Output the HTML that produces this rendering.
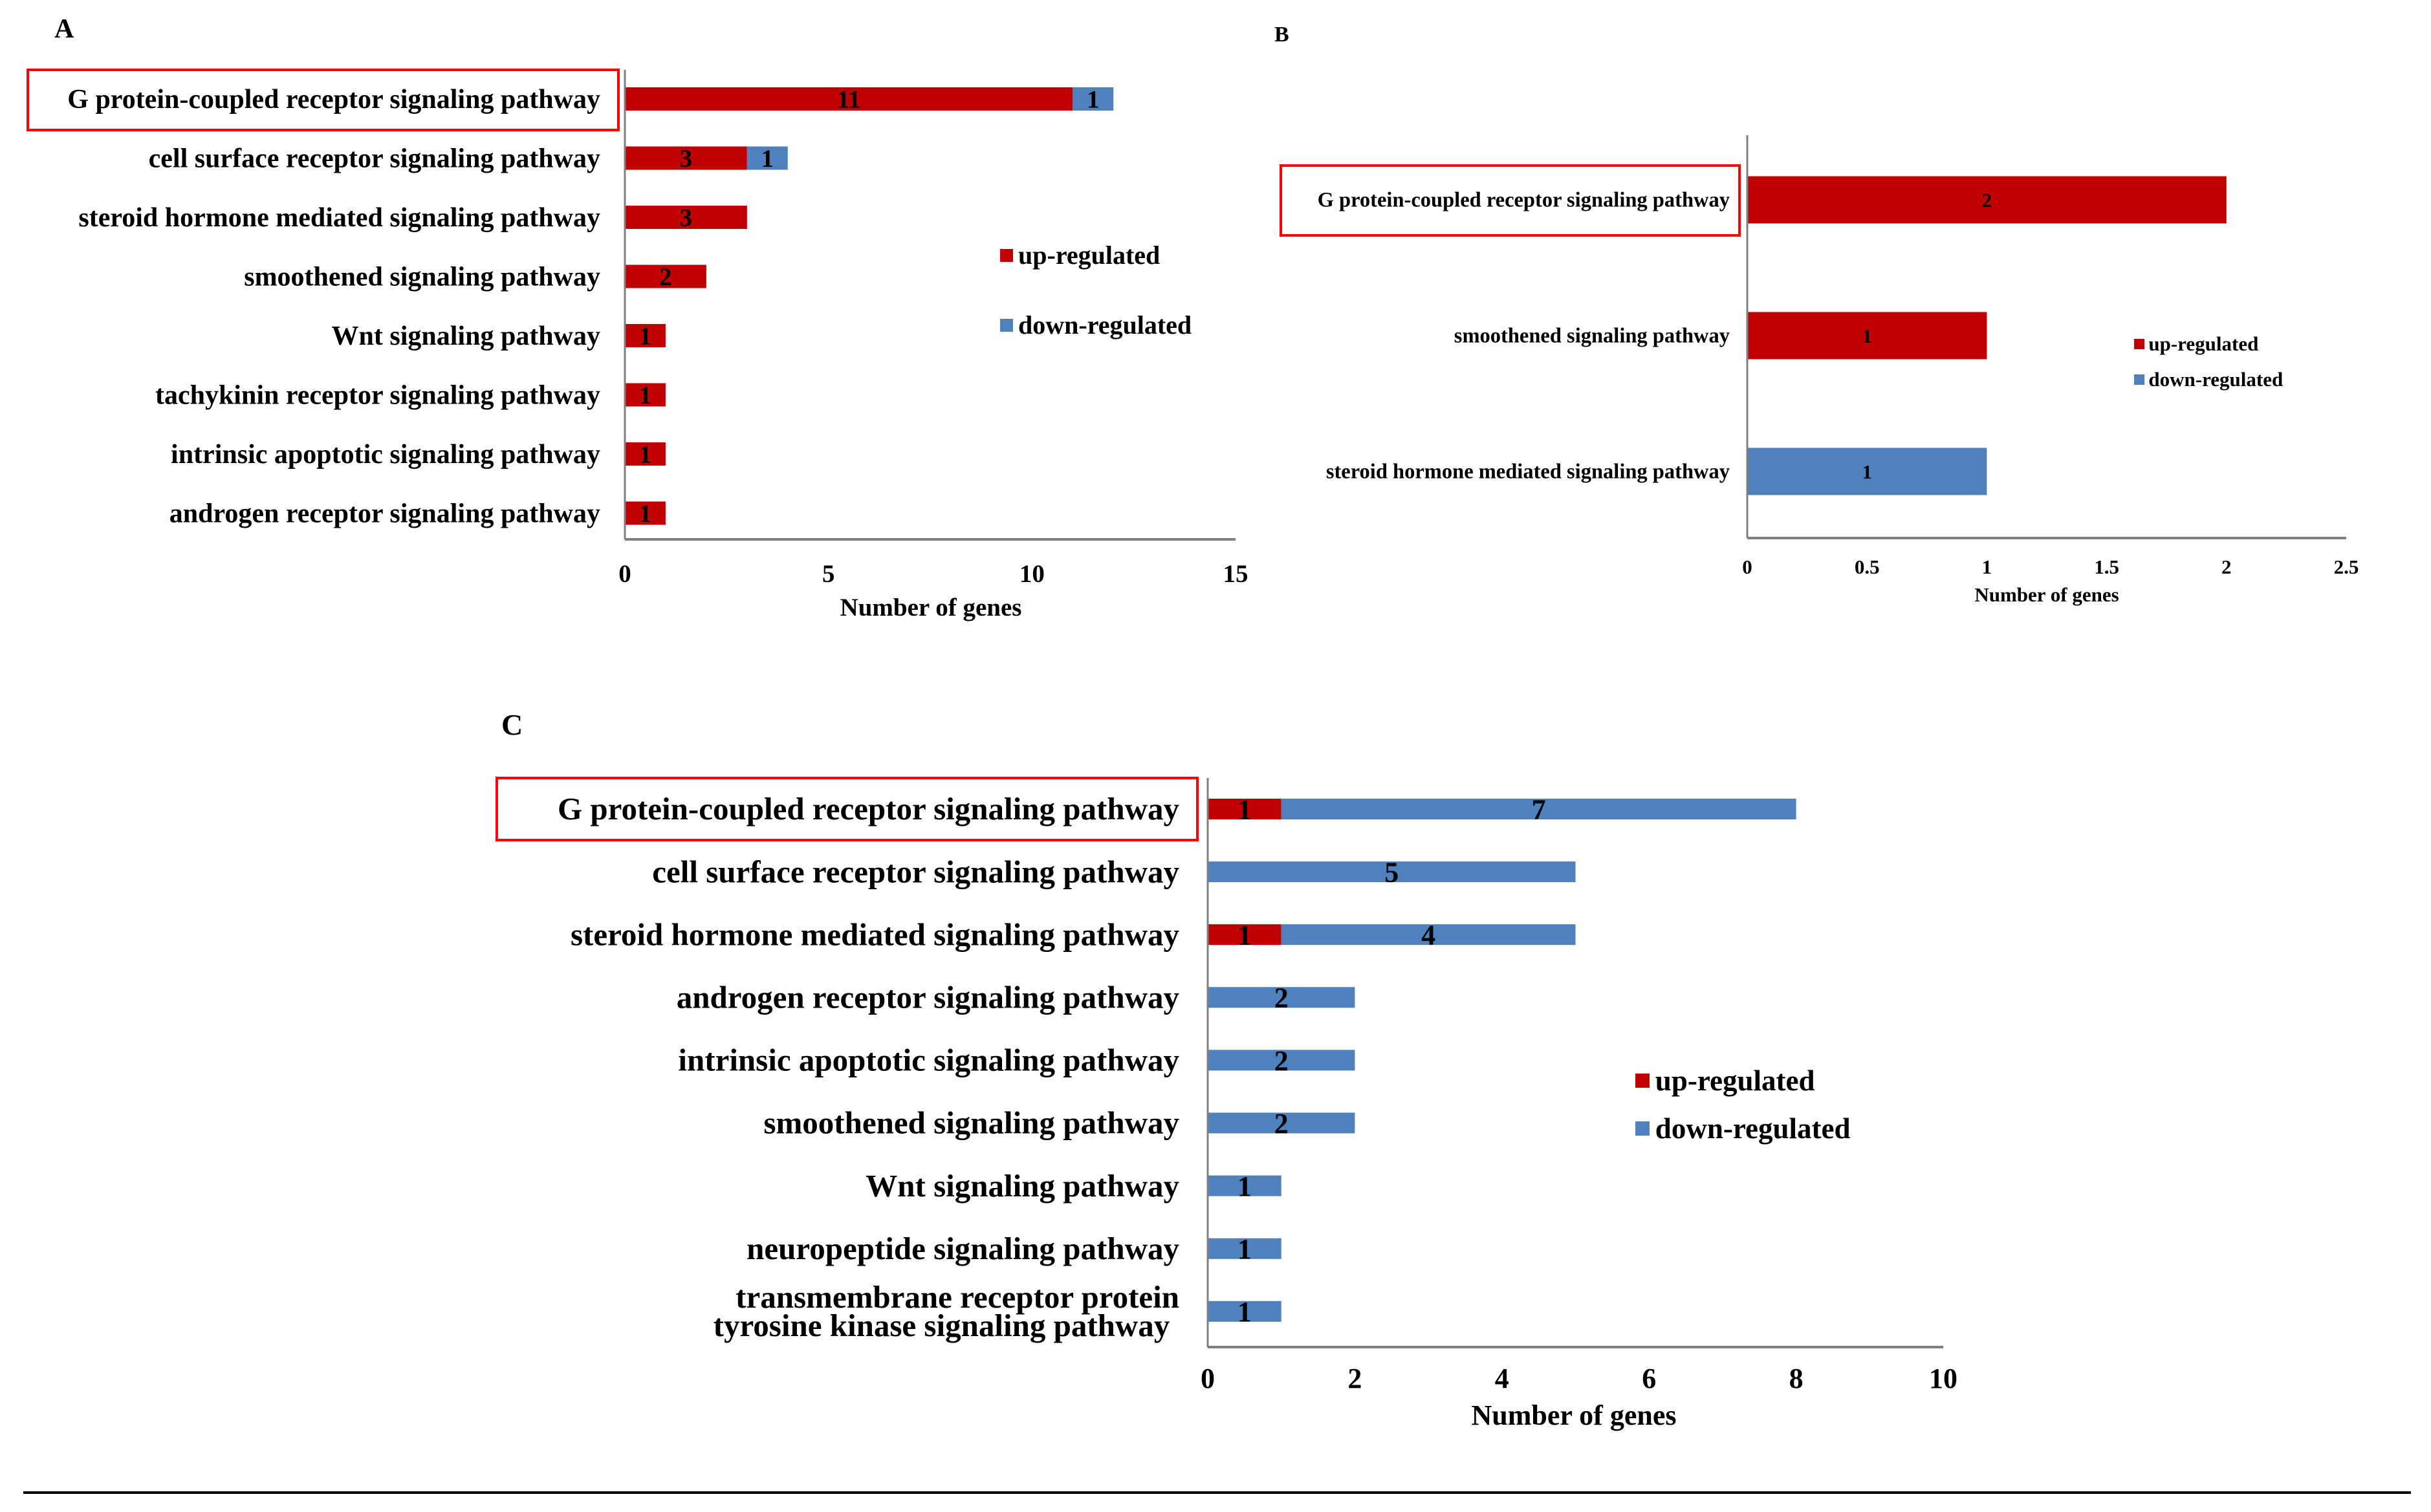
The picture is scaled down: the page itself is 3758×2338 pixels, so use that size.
<!DOCTYPE html>
<html><head><meta charset="utf-8"><style>
html,body{margin:0;padding:0;background:#fff;}
svg{display:block;}
text{font-family:"Liberation Serif",serif;font-weight:bold;fill:#000;}
</style></head><body>
<svg id="fig" xmlns="http://www.w3.org/2000/svg" width="3758" height="2338" viewBox="0 0 3758 2338">
<rect x="0" y="0" width="3758" height="2338" fill="#fff"/>
<line x1="36" y1="2308" x2="3727" y2="2308" stroke="#000" stroke-width="4"/>
</svg>
<script>
// Panel A data
const catsA = ["G protein-coupled receptor signaling pathway","cell surface receptor signaling pathway","steroid hormone mediated signaling pathway","smoothened signaling pathway","Wnt signaling pathway","tachykinin receptor signaling pathway","intrinsic apoptotic signaling pathway","androgen receptor signaling pathway"];
const upA = [11,3,3,2,1,1,1,1];
const downA = [1,1,0,0,0,0,0,0];
const ticksA = [0,5,10,15];
// Panel B data
const catsB = ["G protein-coupled receptor signaling pathway","smoothened signaling pathway","steroid hormone mediated signaling pathway"];
const upB = [2,1,0];
const downB = [0,0,1];
const ticksB = [0,0.5,1,1.5,2,2.5];
// Panel C data
const catsC = ["G protein-coupled receptor signaling pathway","cell surface receptor signaling pathway","steroid hormone mediated signaling pathway","androgen receptor signaling pathway","intrinsic apoptotic signaling pathway","smoothened signaling pathway","Wnt signaling pathway","neuropeptide signaling pathway","transmembrane receptor protein|tyrosine kinase signaling pathway"];
const upC = [1,0,1,0,0,0,0,0,0];
const downC = [7,5,4,2,2,2,1,1,1];
const ticksC = [0,2,4,6,8,10];

const NS="http://www.w3.org/2000/svg";
const svg=document.getElementById('fig');
function mk(tag,attrs,parent){const e=document.createElementNS(NS,tag);for(const k in attrs)e.setAttribute(k,attrs[k]);(parent||svg).appendChild(e);return e;}
const RED="#C00000", BLUE="#4F81BD";

function panel(p){
  const g=mk('g',{});
  
  
  const sx=v=>p.x0+(v-p.min)/(p.max-p.min)*(p.x1-p.x0);
  const sy=i=>p.yFirst+i*p.step;
  const t=mk('text',{x:p.letter[0],y:p.letter[1],'font-size':p.letterSize},g); t.textContent=p.id.toUpperCase();
  
  
  const hb=mk('rect',{x:p.box[0],y:p.box[1],width:p.box[2],height:p.box[3],fill:'none',stroke:'#FF0000','stroke-width':p.boxW},g);
  
  
  p.cats.forEach((c,i)=>{
    const y=sy(i);
    const lines=c.split('|');
    lines.forEach((ln,j)=>{
      const off=(j-(lines.length-1)/2)*p.fs*0.9;
      const tt=mk('text',{x:p.labelX-(j>0?p.fs*0.3:0),y:y+off+p.fs*0.33,'font-size':p.fs,'text-anchor':'end'},g);
      tt.textContent=ln;
      
      
    });
    const u=p.up[i], d=p.down[i];
    if(u>0){
      const r=mk('rect',{x:sx(0),y:y-p.bh/2,width:sx(u)-sx(0),height:p.bh,fill:RED},g);
      
      
      const v=mk('text',{x:(sx(0)+sx(u))/2,y:y+p.vfs*0.35,'font-size':p.vfs,'text-anchor':'middle'},g); v.textContent=u;
      
      
    }
    if(d>0){
      const r=mk('rect',{x:sx(u),y:y-p.bh/2,width:sx(u+d)-sx(u),height:p.bh,fill:BLUE},g);
      
      
      const v=mk('text',{x:(sx(u)+sx(u+d))/2,y:y+p.vfs*0.35,'font-size':p.vfs,'text-anchor':'middle'},g); v.textContent=d;
      
      
    }
  });
  const ay=mk('line',{x1:p.x0,y1:p.axTop,x2:p.x0,y2:p.axBot,stroke:'#7f7f7f','stroke-width':3},g);
  
  
  const ax=mk('line',{x1:p.x0,y1:p.axBot,x2:p.x1,y2:p.axBot,stroke:'#7f7f7f','stroke-width':4},g);
  
  
  p.ticks.forEach(tv=>{
    const tk=mk('text',{x:sx(tv),y:p.tickY,'font-size':p.tfs,'text-anchor':'middle'},g); tk.textContent=tv;
    
    
  });
  const at=mk('text',{x:p.titleX,y:p.titleY,'font-size':p.tfs,'text-anchor':'middle'},g); at.textContent='Number of genes';
  
  
  [['up-regulated',RED,p.leg[1]],['down-regulated',BLUE,p.leg[2]]].forEach(L=>{
    const s=mk('rect',{x:p.leg[0],y:L[2]-p.ls/2,width:p.ls,height:p.ls,fill:L[1]},g);
    
    
    const lt=mk('text',{x:p.leg[0]+p.ls+p.ls*0.4,y:L[2]+p.lfs*0.33,'font-size':p.lfs},g); lt.textContent=L[0];
    
    
  });
}

panel({id:'a',cats:catsA,up:upA,down:downA,ticks:ticksA,min:0,max:15,x0:966,x1:1910,yFirst:153,step:91.5,bh:36,
  axTop:108,axBot:834,labelX:928,fs:42,vfs:39,tfs:39,tickY:900,titleX:1439,titleY:952,
  letter:[84,58],letterSize:42,box:[43,108,913,93],boxW:4,leg:[1546,395,503],ls:20,lfs:40});
panel({id:'b',cats:catsB,up:upB,down:downB,ticks:ticksB,min:0,max:2.5,x0:2701,x1:3627,yFirst:309,step:210,bh:73,
  axTop:209,axBot:832,labelX:2674,fs:32.5,vfs:31,tfs:31,tickY:887,titleX:3164,titleY:930,
  letter:[1970,64],letterSize:34,box:[1980,256,709,108],boxW:4,leg:[3299,532,587],ls:16,lfs:31});
panel({id:'c',cats:catsC,up:upC,down:downC,ticks:ticksC,min:0,max:10,x0:1867,x1:3004,yFirst:1251,step:97.1,bh:32,
  axTop:1203,axBot:2083,labelX:1823,fs:49,vfs:44,tfs:44,tickY:2146,titleX:2433,titleY:2203,
  letter:[775,1136],letterSize:46,box:[768,1203,1083,96],boxW:4,leg:[2528,1671,1745],ls:22,lfs:45});
</script>
</body></html>
